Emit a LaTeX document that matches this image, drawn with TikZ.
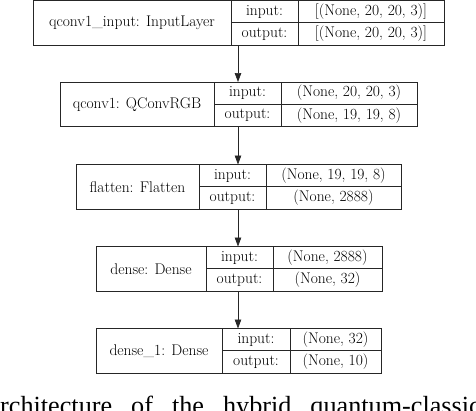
\documentclass[tikz,border=0pt]{standalone}
\usepackage{fontspec}
\usepackage{tikz}
\usetikzlibrary{arrows.meta, positioning}
\newfontfamily\capfont{Liberation Serif}

\begin{document}
\begin{tikzpicture}[
  x=1pt, y=-1pt,
  cell/.style={draw=black!85, line width=0.9pt, inner sep=0pt, outer sep=0pt,
               anchor=north west, font=\fontsize{15.5}{18}\selectfont},
  namecell/.style={cell, minimum height=44.5pt},
  halfcell/.style={cell, minimum height=22.25pt},
  arr/.style={-{Triangle[length=9pt, width=6.5pt]}, line width=0.7pt, black!85}
]
  \useasboundingbox (0,0) rectangle (476,410);
  \clip (0,0) rectangle (476,410);

  % Input layer
  \node[namecell, minimum width=198pt] (inname) at (33,0.5) {qconv1\_input: InputLayer};
  \node[halfcell, minimum width=67pt] (inlab1) at (inname.north east) {input:};
  \node[halfcell, minimum width=67pt] (inlab2) at (inlab1.south west) {output:};
  \node[halfcell, minimum width=146pt] (inval1) at (inlab1.north east) {[(None, 20, 20, 3)]};
  \node[halfcell, minimum width=146pt] (inval2) at (inval1.south west) {[(None, 20, 20, 3)]};

  % Quantum convolution
  \node[namecell, minimum width=154pt] (qcname) at (60,82) {qconv1: QConvRGB};
  \node[halfcell, minimum width=67pt] (qclab1) at (qcname.north east) {input:};
  \node[halfcell, minimum width=67pt] (qclab2) at (qclab1.south west) {output:};
  \node[halfcell, minimum width=136pt] (qcval1) at (qclab1.north east) {(None, 20, 20, 3)};
  \node[halfcell, minimum width=136pt] (qcval2) at (qcval1.south west) {(None, 19, 19, 8)};

  % Flatten
  \node[namecell, minimum width=123pt] (flname) at (76,164.5) {flatten: Flatten};
  \node[halfcell, minimum width=67pt] (fllab1) at (flname.north east) {input:};
  \node[halfcell, minimum width=67pt] (fllab2) at (fllab1.south west) {output:};
  \node[halfcell, minimum width=135pt] (flval1) at (fllab1.north east) {(None, 19, 19, 8)};
  \node[halfcell, minimum width=135pt] (flval2) at (flval1.south west) {(None, 2888)};

  % Dense layers
  \node[namecell, minimum width=110pt] (dename) at (96,246.5) {dense: Dense};
  \node[halfcell, minimum width=67pt] (delab1) at (dename.north east) {input:};
  \node[halfcell, minimum width=67pt] (delab2) at (delab1.south west) {output:};
  \node[halfcell, minimum width=109pt] (deval1) at (delab1.north east) {(None, 2888)};
  \node[halfcell, minimum width=109pt] (deval2) at (deval1.south west) {(None, 32)};

  \node[namecell, minimum width=126pt] (dtname) at (96,328.5) {dense\_1: Dense};
  \node[halfcell, minimum width=68pt] (dtlab1) at (dtname.north east) {input:};
  \node[halfcell, minimum width=68pt] (dtlab2) at (dtlab1.south west) {output:};
  \node[halfcell, minimum width=91pt] (dtval1) at (dtlab1.north east) {(None, 32)};
  \node[halfcell, minimum width=91pt] (dtval2) at (dtval1.south west) {(None, 10)};

  % Caption (cut off)
  \node[anchor=base west, inner sep=0pt,
        font={\capfont\fontsize{26.2}{30}\selectfont\spaceskip=19pt}] (caption)
        at (0,414) {rchitecture of the hybrid quantum-classic};

  % wires
  \draw[arr] (inname.south -| 238,0) -- (qcname.north -| 238,0);
  \draw[arr] (qcname.south -| 238,0) -- (flname.north -| 238,0);
  \draw[arr] (flname.south -| 238,0) -- (dename.north -| 238,0);
  \draw[arr] (dename.south -| 238,0) -- (dtname.north -| 238,0);
\end{tikzpicture}
\end{document}
